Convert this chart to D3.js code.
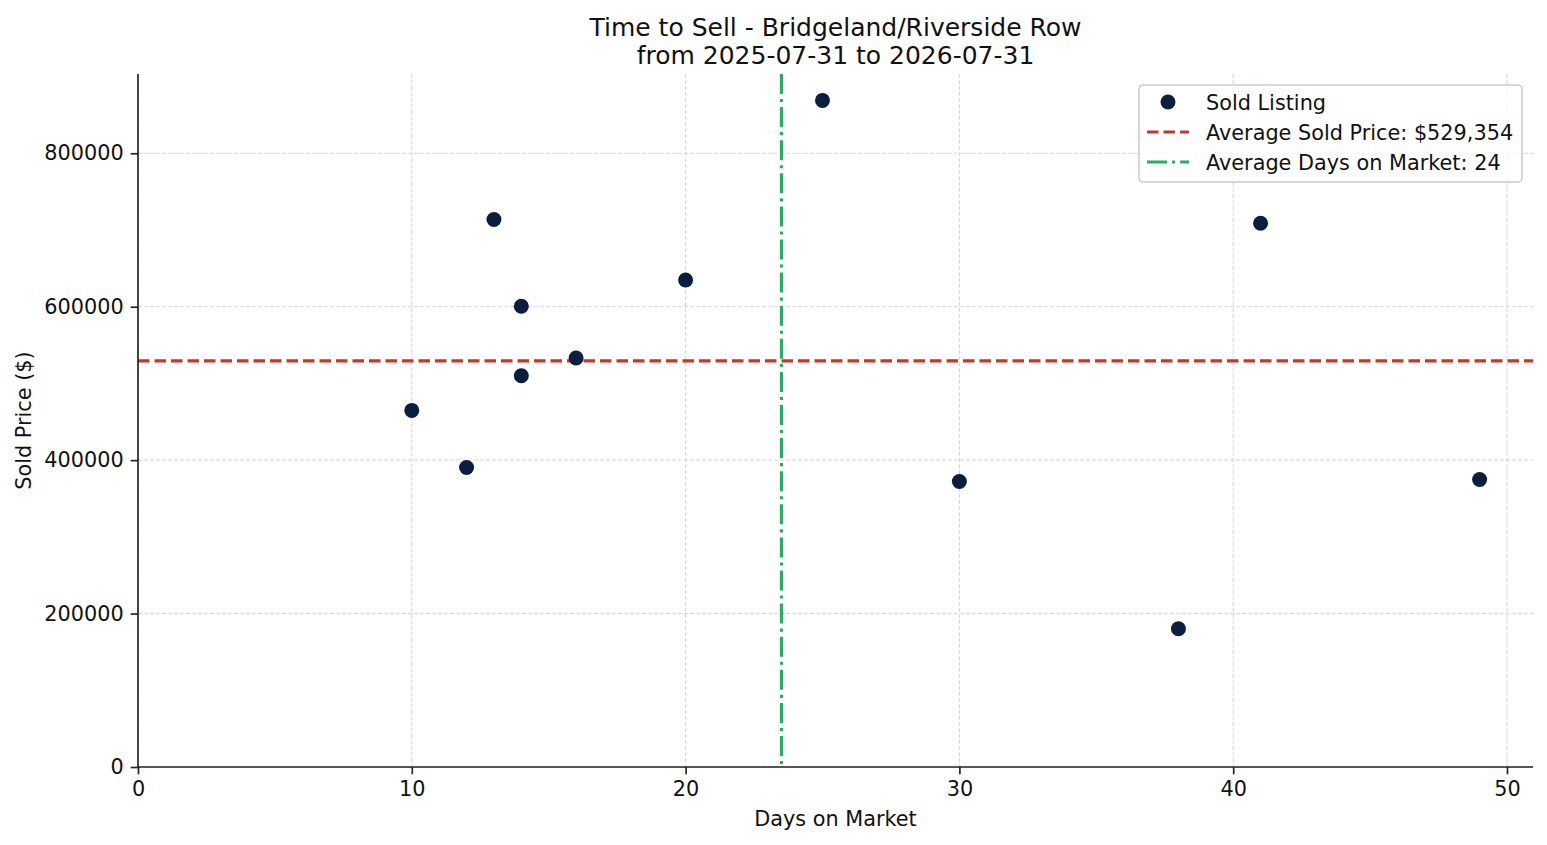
<!DOCTYPE html>
<html>
<head>
<meta charset="utf-8">
<script src="https://cdn.jsdelivr.net/npm/d3@7"></script>
<style>
  html, body { margin: 0; padding: 0; background: #fff; }
  svg { display: block; font-family: "DejaVu Sans", sans-serif; }
  .axis path, .axis line { stroke: #222; stroke-width: 1.67; }
  .axis text { font-family: "DejaVu Sans", sans-serif; font-size: 20.8px; fill: #111; }
  .grid line { stroke: #d4d4d4; stroke-width: 1; stroke-dasharray: 4 2; }
</style>
</head>
<body>
<div id="chart"></div>
<script>
const daysOnMarket = [10, 12, 13, 14, 14, 16, 20, 25, 30, 38, 41, 49];
const soldPrice = [464800, 390400, 713600, 600500, 510000, 533100, 634900, 868900, 372100, 180300, 708800, 374848];
const xTicks = [0, 10, 20, 30, 40, 50];
const yTicks = [0, 200000, 400000, 600000, 800000];
const titleLines = ['Time to Sell - Bridgeland/Riverside Row', 'from 2025-07-31 to 2026-07-31'];

const W = 1547, H = 845;
const MARGIN = { top: 74, right: 14, bottom: 78, left: 138 };
const innerW = W - MARGIN.left - MARGIN.right;
const innerH = H - MARGIN.top - MARGIN.bottom;

const listings = daysOnMarket.map((d, i) => ({ days: d, price: soldPrice[i] }));
const avgPrice = d3.mean(soldPrice);
const avgDays = d3.mean(daysOnMarket);

// matplotlib-style 5% margins, lower limits pinned to zero
const [xMin, xMax] = d3.extent(daysOnMarket);
const [yMin, yMax] = d3.extent(soldPrice);
const x = d3.scaleLinear().domain([0, xMax + 0.05 * (xMax - xMin)]).range([0, innerW]);
const y = d3.scaleLinear().domain([0, yMax + 0.05 * (yMax - yMin)]).range([innerH, 0]);

const svg = d3.select('#chart').append('svg')
  .attr('width', W).attr('height', H)
  .attr('viewBox', `0 0 ${W} ${H}`);

svg.append('text')
  .attr('x', MARGIN.left + innerW / 2).attr('y', 35.5)
  .attr('text-anchor', 'middle').attr('font-size', 25).attr('fill', '#111')
  .selectAll('tspan').data(titleLines).join('tspan')
  .attr('x', MARGIN.left + innerW / 2)
  .attr('dy', (d, i) => i === 0 ? 0 : 28)
  .text((d) => d);

const g = svg.append('g').attr('transform', `translate(${MARGIN.left},${MARGIN.top})`);

// grid
g.append('g').attr('class', 'grid')
  .selectAll('line.gx').data(xTicks).join('line').attr('class', 'gx')
  .attr('x1', (d) => x(d)).attr('x2', (d) => x(d)).attr('y1', 0).attr('y2', innerH);
g.append('g').attr('class', 'grid')
  .selectAll('line.gy').data(yTicks).join('line').attr('class', 'gy')
  .attr('y1', (d) => y(d)).attr('y2', (d) => y(d)).attr('x1', 0).attr('x2', innerW);

// averages
g.append('line')
  .attr('x1', 0).attr('x2', innerW).attr('y1', y(avgPrice)).attr('y2', y(avgPrice))
  .attr('stroke', '#c0392b').attr('stroke-width', 3.1).attr('stroke-dasharray', '11.5 5');
g.append('line')
  .attr('x1', x(avgDays)).attr('x2', x(avgDays)).attr('y1', 0).attr('y2', innerH)
  .attr('stroke', '#27ae60').attr('stroke-width', 3.1).attr('stroke-dasharray', '20 5 3.1 5');

// axes
const xAxis = g.append('g').attr('class', 'axis')
  .attr('transform', `translate(0,${innerH})`)
  .call(d3.axisBottom(x).tickValues(xTicks).tickSize(7.3).tickPadding(7).tickSizeOuter(0));
xAxis.select('.domain').attr('d', `M0,0H${innerW}`);
xAxis.selectAll('text').attr('dy', '0.71em');

const yAxis = g.append('g').attr('class', 'axis')
  .call(d3.axisLeft(y).tickValues(yTicks).tickFormat(d3.format('d')).tickSize(7.3).tickPadding(7).tickSizeOuter(0));
yAxis.select('.domain').attr('d', `M0,${innerH}V0`);

// points
g.append('g').selectAll('circle').data(listings).join('circle')
  .attr('cx', (p) => x(p.days)).attr('cy', (p) => y(p.price))
  .attr('r', 7.5).attr('fill', '#0a1f3d');

// axis labels
svg.append('text')
  .attr('x', MARGIN.left + innerW / 2).attr('y', 826)
  .attr('text-anchor', 'middle').attr('font-size', 20.8).attr('fill', '#111')
  .text('Days on Market');
svg.append('text')
  .attr('transform', `translate(31,${MARGIN.top + innerH / 2}) rotate(-90)`)
  .attr('text-anchor', 'middle').attr('font-size', 20.8).attr('fill', '#111')
  .text('Sold Price ($)');

// legend
const legendItems = [
  { kind: 'dot', label: 'Sold Listing' },
  { kind: 'line', color: '#c0392b', dash: '11.5 5', label: `Average Sold Price: $${d3.format(',')(Math.round(avgPrice))}` },
  { kind: 'line', color: '#27ae60', dash: '20 5 3.1 5', label: `Average Days on Market: ${Math.round(avgDays)}` }
];
const lg = svg.append('g').attr('transform', 'translate(1139,85)');
lg.append('rect')
  .attr('width', 383).attr('height', 97).attr('rx', 4)
  .attr('fill', 'rgba(255,255,255,0.8)').attr('stroke', '#cccccc').attr('stroke-width', 1.6);
const row = lg.selectAll('g.row').data(legendItems).join('g').attr('class', 'row')
  .attr('transform', (d, i) => `translate(0,${17 + i * 30})`);
row.filter((d) => d.kind === 'dot').append('circle')
  .attr('cx', 29).attr('cy', 0).attr('r', 7.5).attr('fill', '#0a1f3d');
row.filter((d) => d.kind === 'line').append('line')
  .attr('x1', 8).attr('x2', 50).attr('y1', 0).attr('y2', 0)
  .attr('stroke', (d) => d.color).attr('stroke-width', 3.1).attr('stroke-dasharray', (d) => d.dash);
row.append('text')
  .attr('x', 67).attr('dy', '0.36em')
  .attr('font-size', 20.8).attr('fill', '#111')
  .text((d) => d.label);
</script>
</body>
</html>
